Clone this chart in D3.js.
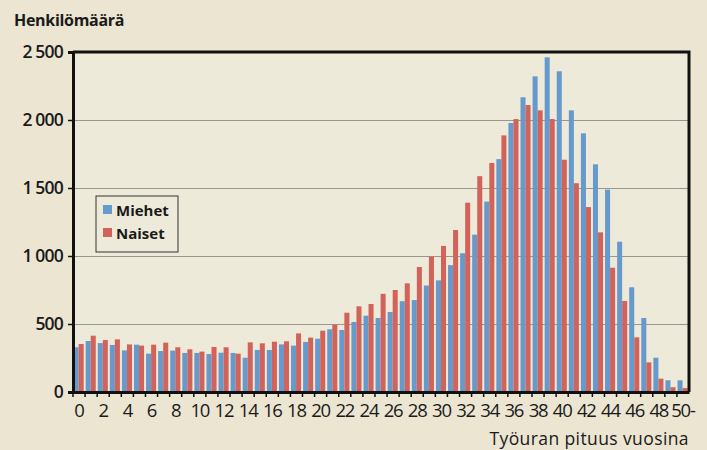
<!DOCTYPE html>
<html>
<head>
<meta charset="utf-8">
<script src="https://cdn.jsdelivr.net/npm/d3@7"></script>
<style>
  body { margin: 0; background: #ebe5d2; }
  text { font-family: "Open Sans", "Noto Sans", sans-serif; fill: #1a1a1a; }
</style>
</head>
<body>
<script>
// vuodet 0..49 ja "50-"
var years = d3.range(0, 50).map(String).concat(["50-"]);

var miehet = [329, 375, 360, 346, 306, 348, 282, 301, 304, 287,
              287, 279, 289, 287, 252, 309, 309, 350, 341, 368,
              392, 461, 456, 515, 561, 544, 588, 668, 676, 783,
              821, 933, 1020, 1157, 1400, 1712, 1978, 2167, 2321, 2461,
              2358, 2071, 1902, 1674, 1488, 1105, 770, 544, 252, 86, 86];

var naiset = [353, 414, 382, 387, 350, 341, 348, 363, 329, 314,
              297, 331, 329, 282, 365, 358, 370, 373, 431, 400,
              451, 495, 583, 630, 647, 722, 750, 799, 919, 995,
              1074, 1191, 1392, 1587, 1684, 1887, 2007, 2110, 2071, 2007,
              1708, 1535, 1360, 1174, 914, 669, 402, 218, 98, 35, 29];

var yTicks = [0, 500, 1000, 1500, 2000, 2500];
var series = [
  {name: "Miehet", values: miehet, color: "#6699cc"},
  {name: "Naiset", values: naiset, color: "#d2635a"}
];

var W = 707, H = 450;
var m = {left: 73, right: 18, top: 52, bottom: 58};

var svg = d3.select("body")
  .append("svg")
  .attr("width", W)
  .attr("height", H);

svg.append("rect").attr("width", W).attr("height", H).attr("fill", "#ebe5d2");

var x = d3.scaleBand()
  .domain(years)
  .range([m.left, W - m.right]);

var y = d3.scaleLinear()
  .domain([0, 2500])
  .range([H - m.bottom, m.top]);

var sub = d3.scaleBand()
  .domain(series.map(function(s) { return s.name; }))
  .range([0.6, x.bandwidth() - 1.4]);

// plot background
svg.append("rect")
  .attr("x", m.left).attr("y", m.top)
  .attr("width", W - m.right - m.left)
  .attr("height", H - m.bottom - m.top)
  .attr("fill", "#eeead9");

// gridlines
svg.append("g")
  .selectAll("line")
  .data(yTicks.slice(1, -1))
  .enter().append("line")
  .attr("x1", m.left).attr("x2", W - m.right)
  .attr("y1", function(d) { return Math.round(y(d)) + 0.5; })
  .attr("y2", function(d) { return Math.round(y(d)) + 0.5; })
  .attr("stroke", "#999690")
  .attr("stroke-width", 1);

// bars
series.forEach(function(s) {
  svg.append("g")
    .selectAll("rect")
    .data(s.values)
    .enter().append("rect")
    .attr("x", function(d, i) { return x(years[i]) + sub(s.name); })
    .attr("width", sub.bandwidth())
    .attr("y", function(d) { return y(d); })
    .attr("height", function(d) { return y(0) - y(d); })
    .attr("fill", s.color);
});

// frame: top and right
svg.append("path")
  .attr("d", "M" + m.left + "," + m.top + "H" + (W - m.right) + "V" + (H - m.bottom))
  .attr("fill", "none")
  .attr("stroke", "#111")
  .attr("stroke-width", 3);

// y axis
var yAxis = svg.append("g")
  .attr("transform", "translate(" + m.left + ",0)")
  .call(d3.axisLeft(y).tickValues(yTicks).tickSize(5).tickPadding(5)
    .tickFormat(function(d) { return d3.format(",")(d).replace(",", " "); }));
yAxis.select(".domain").attr("stroke", "#111").attr("stroke-width", 3);
yAxis.selectAll(".tick line").attr("stroke", "#111").attr("stroke-width", 1.5);
yAxis.selectAll(".tick text")
  .attr("font-size", 17.5).attr("font-weight", 600)
  .attr("letter-spacing", -0.8)
  .attr("xml:space", "preserve")
  .style("white-space", "pre")
  .style("font-family", "'Open Sans', sans-serif");

// x axis
var xAxis = svg.append("g")
  .attr("transform", "translate(0," + (H - m.bottom) + ")")
  .call(d3.axisBottom(x).tickSize(0).tickPadding(12)
    .tickValues(years.filter(function(d, i) { return i % 2 === 0; })));
xAxis.select(".domain").attr("stroke", "#111").attr("stroke-width", 3);
xAxis.selectAll(".tick text")
  .attr("font-size", 18.5)
  .attr("letter-spacing", -1.2)
  .style("font-family", "'Open Sans', sans-serif");

// tick marks between categories
svg.append("g")
  .selectAll("line")
  .data(years)
  .enter().append("line")
  .attr("x1", function(d) { return x(d); })
  .attr("x2", function(d) { return x(d); })
  .attr("y1", H - m.bottom)
  .attr("y2", H - m.bottom + 5)
  .attr("stroke", "#111")
  .attr("stroke-width", 1.5);

// titles
svg.append("text")
  .attr("x", 14).attr("y", 26)
  .attr("font-size", 16).attr("font-weight", 700)
  .attr("letter-spacing", -0.3)
  .text("Henkilömäärä");

svg.append("text")
  .attr("x", W - m.right).attr("y", 445)
  .attr("text-anchor", "end")
  .attr("font-size", 17.5)
  .attr("letter-spacing", 0.4)
  .text("Työuran pituus vuosina");

// legend
var lg = svg.append("g").attr("transform", "translate(96,196)");
lg.append("rect")
  .attr("width", 82).attr("height", 56)
  .attr("fill", "#eeead9")
  .attr("stroke", "#333").attr("stroke-width", 1);
series.forEach(function(s, i) {
  lg.append("rect")
    .attr("x", 7).attr("y", 9 + i * 23)
    .attr("width", 9).attr("height", 9)
    .attr("fill", s.color);
  lg.append("text")
    .attr("x", 20).attr("y", 20 + i * 23)
    .attr("font-size", 15).attr("font-weight", 700)
    .text(s.name);
});
</script>
</body>
</html>
